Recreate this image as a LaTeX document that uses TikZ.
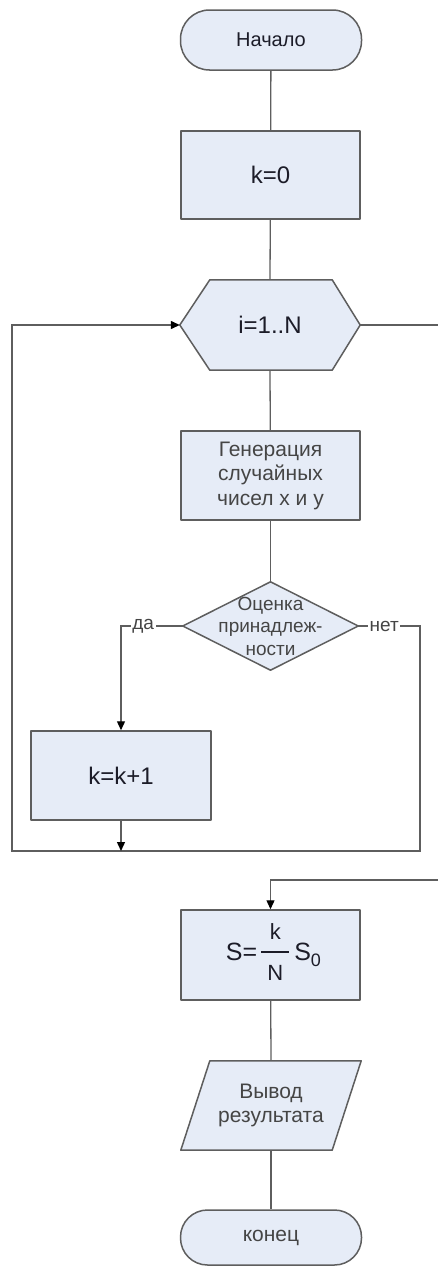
\documentclass[tikz,border=0pt]{standalone}
\usepackage{fontspec}
\setmainfont{Liberation Sans}
\usetikzlibrary{arrows.meta,backgrounds}
\definecolor{boxfill}{HTML}{E6ECF7}
\definecolor{edge}{HTML}{5E5E5E}
\definecolor{txtdark}{HTML}{1C1C28}
\definecolor{txtgray}{HTML}{454545}
\tikzset{
  shp/.style={draw=edge, line width=1.5pt, fill=boxfill, line join=round},
  procbox/.style={shp, rectangle, inner sep=0pt, align=center, minimum width=179pt, minimum height=89pt},
  termbox/.style={shp, rectangle, rounded corners=28pt, inner sep=0pt, align=center, minimum width=181pt, minimum height=58pt},
  frame/.style={rectangle, inner sep=0pt, align=center},
  conn/.style={draw=edge, line width=1.3pt},
  arr/.style={conn, -{Triangle[length=9pt,width=8pt,color=black]}},
  lbl/.style={fill=white, inner sep=1.5pt, font=\fontsize{19}{22}\selectfont, text=txtgray},
  big/.style={font=\fontsize{24}{28}\selectfont, text=txtdark},
  mid/.style={font=\fontsize{21}{24.5}\selectfont, text=txtgray},
}
\begin{document}
\begin{tikzpicture}[x=1pt,y=-1pt]
\begin{scope}[on background layer]
  \fill[white] (0,0) rectangle (438,1266);
\end{scope}
\useasboundingbox (0,0) rectangle (438,1266);

% nodes
\node[termbox, minimum height=60pt, rounded corners=29pt, font=\fontsize{20}{24}\selectfont, text=txtdark] (start) at (271,40) {Начало};
\node[procbox, minimum height=88pt, big] (k0) at (270.5,175) {k=0};
\node[frame, minimum width=180pt, minimum height=90pt, big] (hex) at (270,325) {i=1..N};
\node[procbox, mid] (gen) at (270.5,475.5) {Генерация\\случайных\\чисел x и y};
\node[frame, minimum width=175pt, minimum height=88pt, font=\fontsize{19}{22.5}\selectfont, text=txtgray] (dec) at (270.5,626) {Оценка\\принадлеж-\\ности};
\node[procbox, minimum width=180pt, big] (kk) at (121,775.5) {k=k+1};
\node[procbox, minimum height=90pt, text=txtdark] (S) at (270.5,955)
  {\hspace{6pt}\fontsize{25}{28}\selectfont S=\,\setlength{\arrayrulewidth}{1.3pt}\fontsize{22}{26}\selectfont
   \begin{tabular}{@{\hspace{6pt}}c@{\hspace{6pt}}}k\\[4pt]\hline\rule{0pt}{28pt}N\end{tabular}%
   \fontsize{25}{28}\selectfont\hspace{5pt}S\raisebox{-6pt}{\fontsize{18}{20}\selectfont 0}};
\node[frame, minimum width=180pt, minimum height=89pt, mid] (out) at (271,1105.5) {Вывод\\результата};
\node[termbox, minimum height=55pt, rounded corners=27pt, mid] (end) at (271,1237.5) {конец};

% hand-drawn outlines
\begin{scope}[on background layer]
  \filldraw[shp] (hex.west) -- ([xshift=30pt]hex.north west) -- ([xshift=-28pt]hex.north east)
    -- (hex.east) -- ([xshift=-28pt]hex.south east) -- ([xshift=30pt]hex.south west) -- cycle;
  \filldraw[shp] (dec.north) -- (dec.east) -- (dec.south) -- (dec.west) -- cycle;
  \filldraw[shp] ([xshift=29pt]out.north west) -- (out.north east)
    -- ([xshift=-29pt]out.south east) -- (out.south west) -- cycle;
\end{scope}

% coordinates
\coordinate (netC) at (420,626);
\coordinate (loopR) at (420,851);
\coordinate (loopL) at (12,851);
\coordinate (loopT) at (12,325);
\coordinate (jn) at (121,851);
\coordinate (exitR) at (438,325);
\coordinate (entR) at (438,880);

% connectors
\draw[conn] (start) -- (k0);
\draw[conn] (k0) -- (hex.north);
\draw[conn] (hex.south) -- (gen);
\draw[conn] (gen) -- (dec.north);
\draw[conn] (hex.east) -- (exitR);
\draw[arr] (dec.west) -- node[lbl, pos=0.64] {да} (dec.west -| kk.north) -- (kk.north);
\draw[arr] (dec.east) -- node[lbl, pos=0.42] {нет} (netC) -- (loopR) -- (loopL) -- (loopT) -- (hex.west);
\draw[arr] (kk.south) -- (jn);
\draw[arr] (entR) -| (S.north);
\draw[conn] (S) -- (out.north);
\draw[conn] (out.south) -- (end);
\end{tikzpicture}
\end{document}
